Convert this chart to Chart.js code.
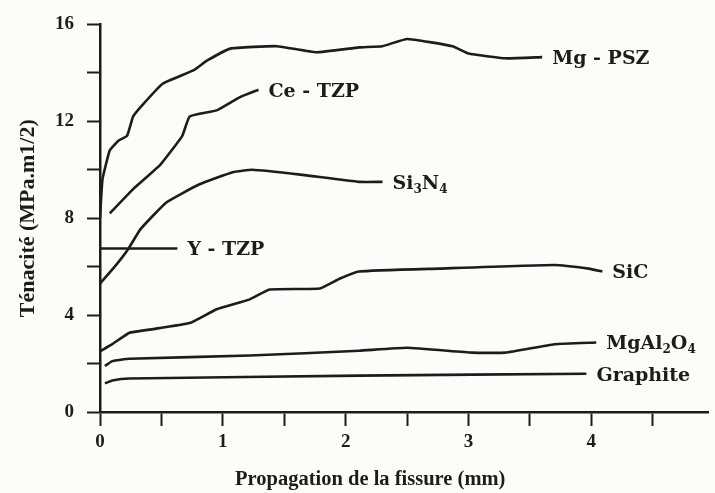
<!DOCTYPE html>
<html>
<head>
<meta charset="utf-8">
<script src="https://cdn.jsdelivr.net/npm/chart.js@4.4.1/dist/chart.umd.min.js"></script>
<style>
  html, body { margin: 0; padding: 0; background: #fcfcfb; }
  #wrap { width: 715px; height: 493px; }
</style>
</head>
<body>
<div id="wrap"><canvas id="c" width="715" height="493"></canvas></div>
<script>
// R-curves: toughness versus crack extension for several ceramics

const seriesNames = ['Mg - PSZ', 'Ce - TZP', 'Si3N4', 'Y - TZP', 'SiC', 'MgAl2O4', 'Graphite'];

const mgPszX = [0, 0.02, 0.08, 0.15, 0.22, 0.27, 0.35, 0.51, 0.76, 0.87, 1.06, 1.44, 1.76, 2.11, 2.3, 2.5, 2.87, 3.0, 3.3, 3.6];
const mgPszY = [8.0, 9.6, 10.8, 11.2, 11.4, 12.2, 12.7, 13.55, 14.1, 14.5, 15.0, 15.1, 14.85, 15.05, 15.1, 15.4, 15.1, 14.8, 14.6, 14.65];

const ceTzpX = [0.08, 0.27, 0.49, 0.67, 0.73, 0.95, 1.14, 1.29];
const ceTzpY = [8.2, 9.2, 10.2, 11.4, 12.2, 12.45, 13.0, 13.3];

const si3n4X = [0, 0.12, 0.23, 0.33, 0.54, 0.81, 1.08, 1.24, 1.63, 2.11, 2.3];
const si3n4Y = [5.3, 6.0, 6.73, 7.55, 8.65, 9.4, 9.9, 10.0, 9.8, 9.5, 9.5];

const yTzpX = [0, 0.63];
const yTzpY = [6.75, 6.75];

const sicX = [0, 0.1, 0.24, 0.4, 0.73, 0.95, 1.22, 1.38, 1.79, 1.95, 2.11, 2.76, 3.7, 3.98, 4.09];
const sicY = [2.5, 2.8, 3.27, 3.4, 3.67, 4.24, 4.65, 5.06, 5.1, 5.5, 5.8, 5.92, 6.07, 5.92, 5.8];

const mgAl2o4X = [0.04, 0.1, 0.24, 1.22, 2.11, 2.5, 3.03, 3.3, 3.7, 4.04];
const mgAl2o4Y = [1.9, 2.1, 2.2, 2.33, 2.53, 2.65, 2.45, 2.45, 2.8, 2.87];

const graphiteX = [0.04, 0.1, 0.24, 2.11, 3.96];
const graphiteY = [1.18, 1.3, 1.38, 1.5, 1.58];

const xTitle = 'Propagation de la fissure (mm)';
const yTitle = 'Ténacité (MPa.m1/2)';

const xs = [mgPszX, ceTzpX, si3n4X, yTzpX, sicX, mgAl2o4X, graphiteX];
const ys = [mgPszY, ceTzpY, si3n4Y, yTzpY, sicY, mgAl2o4Y, graphiteY];

const INK = '#1c1c1c';
const SERIF = '"Liberation Serif", "Times New Roman", serif';
const WIDE_SERIF = '"DejaVu Serif", "Liberation Serif", serif';

const datasets = seriesNames.map((name, i) => ({
  label: name,
  data: xs[i].map((x, k) => ({ x: x, y: ys[i][k] })),
  borderColor: INK,
  borderWidth: 2.6,
  pointRadius: 0,
  tension: 0.12,
  fill: false
}));

// Writes a formula-style label; digits are set as subscripts.
function drawFormula(ctx, text, x, y, size) {
  let cx = x;
  const parts = text.match(/\d+|\D+/g) || [];
  parts.forEach(p => {
    const sub = /^\d+$/.test(p) && text !== p;
    ctx.font = 'bold ' + (sub ? Math.round(size * 0.62) : size) + 'px ' + WIDE_SERIF;
    ctx.fillText(p, cx, sub ? y + size * 0.22 : y);
    cx += ctx.measureText(p).width;
  });
}

const curveLabels = {
  id: 'curveLabels',
  afterDatasetsDraw(chart) {
    const ctx = chart.ctx;
    const sx = chart.scales.x, sy = chart.scales.y;
    ctx.save();
    ctx.fillStyle = INK;
    ctx.textBaseline = 'alphabetic';
    ctx.textAlign = 'left';
    const size = 19;
    seriesNames.forEach((name, i) => {
      const n = xs[i].length - 1;
      const px = sx.getPixelForValue(xs[i][n]);
      const py = sy.getPixelForValue(ys[i][n]);
      drawFormula(ctx, name, px + 10, py + size * 0.36, size);
    });
    ctx.restore();
  }
};

const axisTitles = {
  id: 'axisTitles',
  afterDraw(chart) {
    const ctx = chart.ctx;
    const sx = chart.scales.x, sy = chart.scales.y;
    ctx.save();
    ctx.fillStyle = INK;
    ctx.textAlign = 'center';
    ctx.textBaseline = 'alphabetic';
    ctx.font = 'bold 20.5px ' + SERIF;
    ctx.fillText(xTitle, sx.getPixelForValue(2.2), 485);
    ctx.font = 'bold 22px ' + SERIF;
    ctx.translate(34, (sy.top + sy.bottom) / 2);
    ctx.rotate(-Math.PI / 2);
    ctx.fillText(yTitle, 0, 0);
    ctx.restore();
  }
};

new Chart(document.getElementById('c'), {
  type: 'line',
  data: { datasets: datasets },
  plugins: [curveLabels, axisTitles],
  options: {
    responsive: false,
    animation: false,
    devicePixelRatio: 1,
    layout: { padding: { top: 20, right: 7, left: 0, bottom: 0 } },
    plugins: { legend: { display: false }, tooltip: { enabled: false } },
    scales: {
      x: {
        type: 'linear',
        min: 0,
        max: 4.95,
        afterFit(scale) { scale.height = 81; },
        border: { display: true, color: INK, width: 2.5 },
        grid: { display: true, drawOnChartArea: false, drawTicks: true, tickLength: 14, tickWidth: 2, color: INK },
        ticks: {
          stepSize: 0.5,
          includeBounds: false,
          autoSkip: false,
          maxRotation: 0,
          padding: 5,
          color: INK,
          font: { family: SERIF, size: 19, weight: 'bold' },
          callback: v => (Math.abs(v - Math.round(v)) < 1e-6 ? String(Math.round(v)) : '')
        }
      },
      y: {
        type: 'linear',
        min: 0,
        max: 16,
        afterFit(scale) { scale.width = 100; },
        border: { display: true, color: INK, width: 2.5 },
        grid: { display: true, drawOnChartArea: false, drawTicks: true, tickLength: 13, tickWidth: 2, color: INK },
        ticks: {
          stepSize: 2,
          autoSkip: false,
          padding: 13,
          color: INK,
          font: { family: SERIF, size: 19, weight: 'bold' },
          callback: v => (v % 4 === 0 ? String(v) : '')
        }
      }
    }
  }
});
</script>
</body>
</html>
